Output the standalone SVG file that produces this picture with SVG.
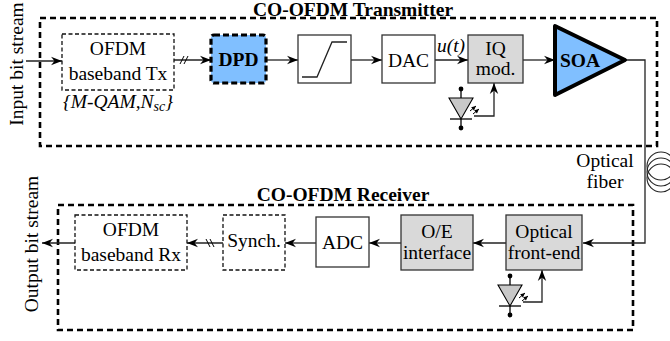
<svg xmlns="http://www.w3.org/2000/svg" width="670" height="341" viewBox="0 0 670 341">
<defs>
<style>
.t{font-family:"Liberation Serif","Times New Roman",serif;font-size:19.5px;fill:#000}
.b{font-weight:bold}
.i{font-style:italic}
.ob{fill:none;stroke:#000;stroke-width:2.6;stroke-dasharray:6 4}
.nd{fill:#fff;stroke:#111;stroke-width:1.3;stroke-dasharray:4 2.5}
.ns{fill:#fff;stroke:#333;stroke-width:1.3}
.gr{fill:#d9d9d9;stroke:#333;stroke-width:1.3}
.c{fill:none;stroke:#222;stroke-width:1.3}
.ca{fill:none;stroke:#222;stroke-width:1.3;marker-end:url(#ah)}
.bl{fill:#80bfff}
</style>
<marker id="ah" markerWidth="12" markerHeight="10" viewBox="-12 -5 12 10" refX="0" refY="0" orient="auto" markerUnits="userSpaceOnUse"><path d="M0,0 L-11,-4.2 L-7.5,0 L-11,4.2 Z" fill="#000"/></marker>
<marker id="sh" markerWidth="6" markerHeight="6" viewBox="-5 -3 5 6" refX="0" refY="0" orient="auto" markerUnits="userSpaceOnUse"><path d="M0,0 L-4.5,-2.2 L-4.5,2.2 Z" fill="#000"/></marker>
<g id="ld">
<line x1="0" y1="0" x2="0" y2="9" stroke="#000" stroke-width="1.3"/>
<circle cx="0" cy="0" r="2.4" fill="#000"/>
<polygon points="-12,9 12,9 0,30" fill="#c8c8c8" stroke="#000" stroke-width="1.1"/>
<line x1="-11" y1="30" x2="11" y2="30" stroke="#000" stroke-width="1.3"/>
<line x1="0" y1="30" x2="0" y2="39" stroke="#000" stroke-width="1.3"/>
<circle cx="0" cy="39" r="2.4" fill="#000"/>
<line x1="9" y1="22" x2="15" y2="17" stroke="#000" stroke-width="1" marker-end="url(#sh)"/>
<line x1="12" y1="25" x2="18" y2="20" stroke="#000" stroke-width="1" marker-end="url(#sh)"/>
</g>
</defs>
<rect width="670" height="341" fill="#fff"/>

<!-- frames -->
<g id="tx-frame">
<rect class="ob" x="40" y="18" width="617" height="128"/>
<text class="t b" x="353" y="16" text-anchor="middle" font-size="19">CO-OFDM Transmitter</text>
</g>
<g id="rx-frame">
<rect class="ob" x="58" y="205" width="575" height="125"/>
<text class="t b" x="343" y="201" text-anchor="middle" font-size="19">CO-OFDM Receiver</text>
</g>

<text class="t" transform="translate(23,64) rotate(-90)" text-anchor="middle">Input bit stream</text>
<text class="t" transform="translate(38,244) rotate(-90)" text-anchor="middle">Output bit stream</text>

<!-- connectors -->
<g id="connectors">
<line class="ca" x1="26" y1="61" x2="62" y2="61"/>
<line class="ca" x1="174" y1="60" x2="211" y2="60"/>
<line x1="180" y1="64" x2="184" y2="56" stroke="#000" stroke-width="1"/>
<line x1="184" y1="64" x2="188" y2="56" stroke="#000" stroke-width="1"/>
<line class="ca" x1="266" y1="60" x2="298" y2="60"/>
<line class="ca" x1="351" y1="60" x2="382" y2="60"/>
<line class="ca" x1="435" y1="60" x2="468" y2="60"/>
<text class="t i" x="451" y="52" text-anchor="middle">u(t)</text>
<line class="ca" x1="523" y1="60" x2="555" y2="60"/>
<polyline class="ca" points="474,116 494,116 494,83"/>
<polyline class="ca" points="625,60 645,60 645,243 583,243"/>
<line class="ca" x1="506" y1="243" x2="473" y2="243"/>
<line class="ca" x1="401" y1="243" x2="369" y2="243"/>
<line class="ca" x1="316" y1="243" x2="285" y2="243"/>
<line class="ca" x1="223" y1="243" x2="187" y2="243"/>
<line x1="206" y1="239" x2="210" y2="247" stroke="#000" stroke-width="1"/>
<line x1="210" y1="239" x2="214" y2="247" stroke="#000" stroke-width="1"/>
<line class="ca" x1="75" y1="243" x2="42" y2="243"/>
<polyline class="ca" points="523,302 542,302 542,270"/>
</g>

<!-- fiber -->
<g id="fiber" fill="none" stroke="#222" stroke-width="1.1">
<circle cx="661" cy="166" r="14"/>
<circle cx="661" cy="172" r="14"/>
<circle cx="661" cy="178" r="14"/>
</g>
<text class="t" x="605" y="167" text-anchor="middle">Optical</text>
<text class="t" x="605" y="188" text-anchor="middle">fiber</text>

<!-- transmitter nodes -->
<g id="ofdm-tx">
<rect class="nd" x="62" y="34" width="112" height="56"/>
<text class="t" x="118" y="55" text-anchor="middle">OFDM</text>
<text class="t" x="118" y="80" text-anchor="middle">baseband Tx</text>
<text class="t i" x="118" y="108" text-anchor="middle">{M-QAM,N<tspan font-size="14" dy="3">sc</tspan><tspan dy="-3">}</tspan></text>
</g>
<g id="dpd">
<rect x="211" y="35" width="55" height="48" rx="3" class="bl" stroke="#000" stroke-width="3.2" stroke-dasharray="6 3"/>
<text class="t b" x="238.5" y="66" text-anchor="middle">DPD</text>
</g>
<g id="clipper">
<rect class="ns" x="298" y="35" width="53" height="48"/>
<polyline points="302,77 317,77 332,42 347,42" fill="none" stroke="#222" stroke-width="1.3"/>
</g>
<g id="dac">
<rect class="ns" x="382" y="35" width="53" height="48"/>
<text class="t" x="408.5" y="67" text-anchor="middle">DAC</text>
</g>
<g id="iq">
<rect class="gr" x="468" y="35" width="55" height="48"/>
<text class="t" x="495.5" y="55" text-anchor="middle" font-size="18.5">IQ</text>
<text class="t" x="495.5" y="75" text-anchor="middle" font-size="18.5">mod.</text>
</g>
<g id="soa">
<polygon points="555,26 555,95 625,60" class="bl" stroke="#000" stroke-width="4" stroke-linejoin="round"/>
<text class="t b" x="580" y="67" text-anchor="middle">SOA</text>
</g>
<g id="laser-tx"><use href="#ld" x="461" y="89"/></g>

<!-- receiver nodes -->
<g id="frontend">
<rect class="gr" x="506" y="215" width="76" height="55"/>
<text class="t" x="544" y="238" text-anchor="middle">Optical</text>
<text class="t" x="544" y="259" text-anchor="middle">front-end</text>
</g>
<g id="oe">
<rect class="gr" x="401" y="215" width="72" height="55"/>
<text class="t" x="437" y="238" text-anchor="middle">O/E</text>
<text class="t" x="437" y="259" text-anchor="middle">interface</text>
</g>
<g id="adc">
<rect class="ns" x="316" y="217" width="53" height="50"/>
<text class="t" x="342.5" y="249" text-anchor="middle">ADC</text>
</g>
<g id="synch">
<rect class="nd" x="223" y="215" width="62" height="55"/>
<text class="t" x="254" y="247" text-anchor="middle">Synch.</text>
</g>
<g id="ofdm-rx">
<rect class="nd" x="75" y="215" width="112" height="55"/>
<text class="t" x="131" y="236" text-anchor="middle">OFDM</text>
<text class="t" x="131" y="261" text-anchor="middle">baseband Rx</text>
</g>
<g id="laser-rx"><use href="#ld" x="510" y="276"/></g>
</svg>
